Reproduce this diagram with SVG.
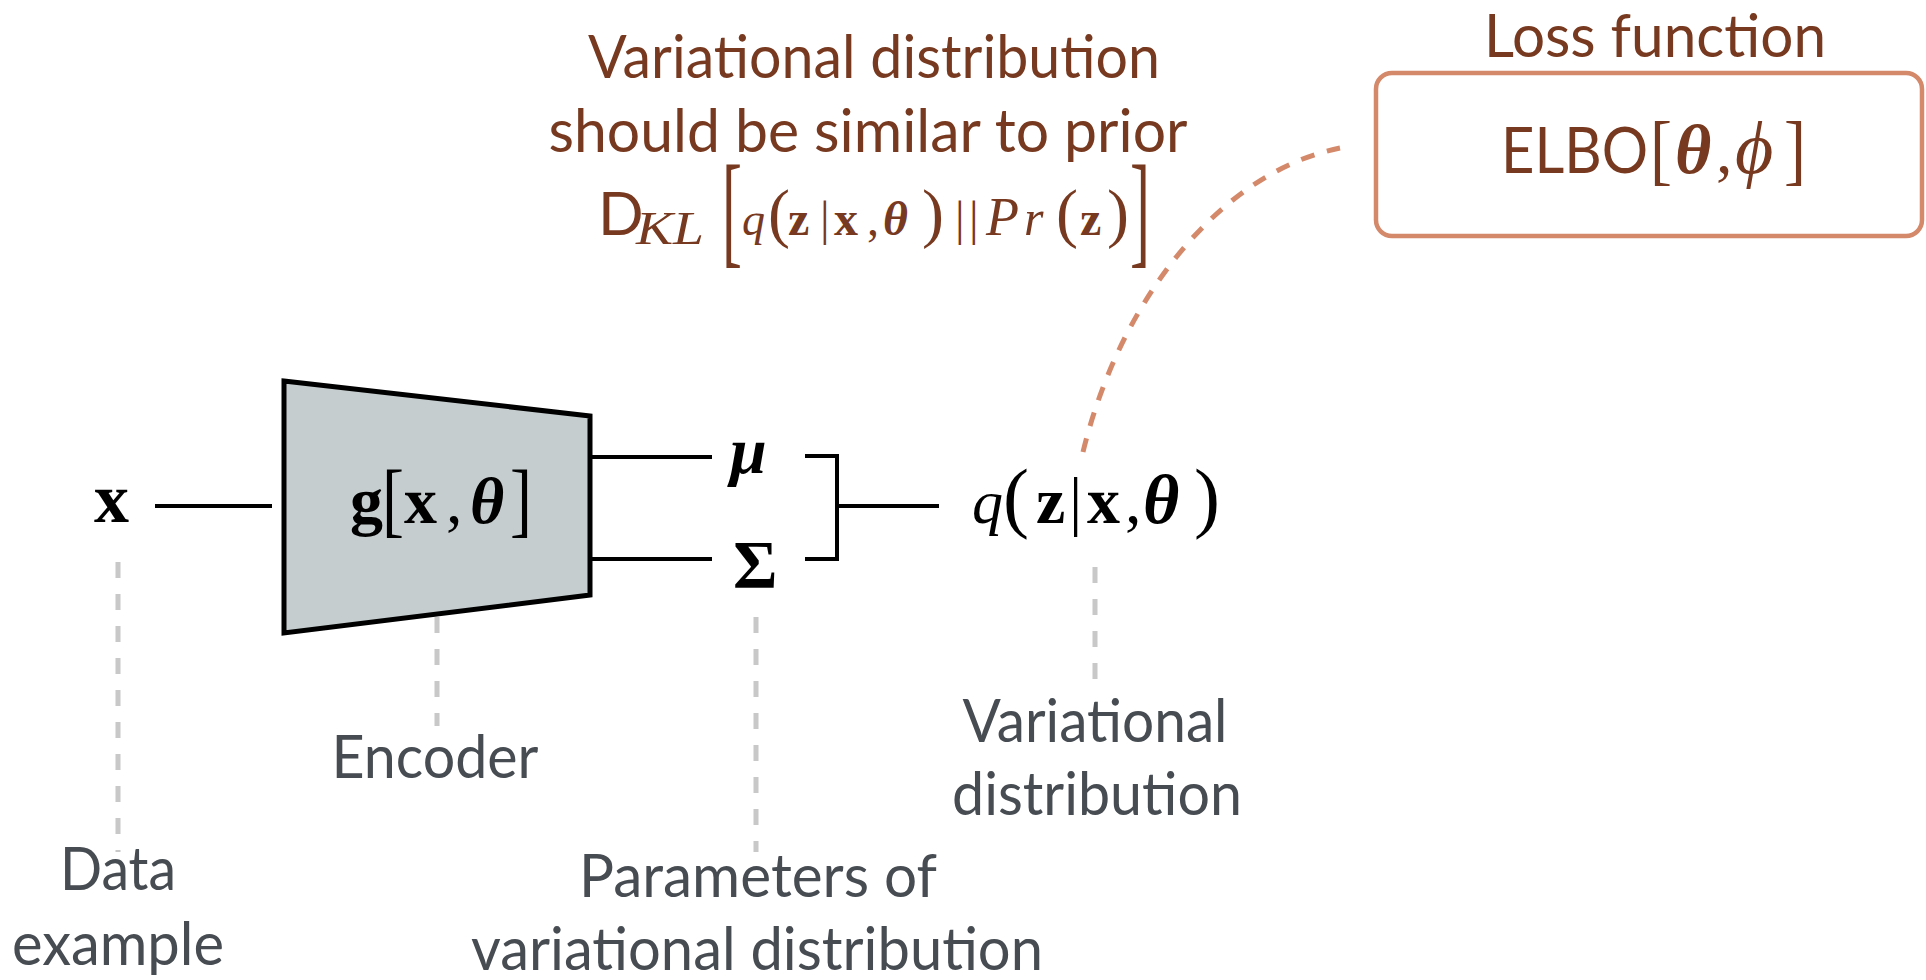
<svg xmlns="http://www.w3.org/2000/svg" width="1926" height="980" viewBox="0 0 1926 980">
  <style>
    .label { font-family: Lato, "Open Sans", sans-serif; font-size: 60px; fill: #464c52; text-anchor: middle; }
    .title { font-family: Lato, "Open Sans", sans-serif; font-size: 60px; fill: #77391f; text-anchor: middle; }
    .sans { font-family: Lato, "Open Sans", sans-serif; }
    .math { font-family: "Liberation Serif", "DejaVu Serif", serif; fill: #000; }
    .bm { font-weight: bold; }
    .it { font-style: italic; }
    .brown { fill: #77391f; }
    .wire { stroke: #000; stroke-width: 4; fill: none; }
    .guide { stroke: #c8c8c8; stroke-width: 5; stroke-dasharray: 16 16; fill: none; }
    .loss-link { stroke: #d4896b; stroke-width: 5; stroke-dasharray: 14 13; fill: none; }
  </style>

  <!-- connectors -->
  <g id="connectors">
    <line class="wire" x1="155" y1="506" x2="272" y2="506"/>
    <line class="wire" x1="590" y1="457" x2="712" y2="457"/>
    <line class="wire" x1="590" y1="559" x2="712" y2="559"/>
    <polyline class="wire" points="805,456 837,456 837,559 805,559"/>
    <line class="wire" x1="837" y1="506" x2="939" y2="506"/>
    <path class="loss-link" d="M1083,452 C1120,300 1220,172 1340,148"/>
    <!-- grey leader lines to the captions -->
    <line class="guide" x1="118" y1="562" x2="118" y2="852"/>
    <line class="guide" x1="437" y1="617" x2="437" y2="726"/>
    <line class="guide" x1="756" y1="617" x2="756" y2="852"/>
    <line class="guide" x1="1095" y1="567" x2="1095" y2="680"/>
  </g>

  <!-- input x -->
  <g id="input">
    <text class="math bm" x="94" y="522" font-size="70">x</text>
  </g>

  <!-- encoder network -->
  <g id="encoder">
    <polygon points="284,381 590,416 590,595 284,633" fill="#c6cdcf" stroke="#000" stroke-width="5"/>
    <text class="math" y="523" font-size="66">
      <tspan class="bm" x="350">g</tspan><tspan class="bm" x="404">x</tspan><tspan x="446">,</tspan><tspan class="bm it" x="470">θ</tspan>
    </text>
    <!-- tall brackets: vertically stretched so the stems stay thin -->
    <text class="math" font-size="66" transform="translate(382,527) scale(1,1.24)">[</text>
    <text class="math" font-size="66" transform="translate(510,527) scale(1,1.24)">]</text>
  </g>

  <!-- distribution parameters -->
  <g id="mu">
    <text class="math bm it" x="730" y="473" font-size="66">μ</text>
  </g>
  <g id="sigma">
    <text class="math bm" x="733" y="587" font-size="68">Σ</text>
  </g>

  <!-- variational distribution -->
  <g id="q">
    <text class="math" y="523" font-size="66">
      <tspan class="it" x="972" font-size="62">q</tspan><tspan x="1003" font-size="78">(</tspan><tspan class="bm" x="1036">z</tspan><tspan x="1069">|</tspan><tspan class="bm" x="1087">x</tspan><tspan x="1125">,</tspan><tspan class="bm it" x="1143" font-size="70">θ</tspan><tspan x="1194" font-size="78">)</tspan>
    </text>
  </g>

  <!-- KL annotation -->
  <g id="kl-note">
    <text class="title" x="874" y="78" textLength="572" lengthAdjust="spacingAndGlyphs">Variational distribution</text>
    <text class="title" x="868" y="152" textLength="639" lengthAdjust="spacingAndGlyphs">should be similar to prior</text>
    <text class="math brown" y="235" font-size="48">
      <tspan class="sans" x="598" font-size="60">D</tspan><tspan class="it" x="636" y="244" font-size="46" textLength="68" lengthAdjust="spacingAndGlyphs">KL</tspan><tspan class="it" x="742" y="235" font-size="46">q</tspan><tspan x="768" font-size="66">(</tspan><tspan class="bm" x="788">z</tspan><tspan x="820">|</tspan><tspan class="bm" x="834">x</tspan><tspan x="867">,</tspan><tspan class="bm it" x="883">θ</tspan><tspan x="922" font-size="66">)</tspan><tspan x="955">|</tspan><tspan x="969">|</tspan><tspan class="it" x="986" font-size="54">P</tspan><tspan class="it" x="1024" font-size="50">r</tspan><tspan x="1056" font-size="66">(</tspan><tspan class="bm" x="1080">z</tspan><tspan x="1107" font-size="66">)</tspan>
    </text>
    <text class="math brown" font-size="60" transform="translate(722,250.6) scale(1,2.08)">[</text>
    <text class="math brown" font-size="60" transform="translate(1130,250.6) scale(1,2.08)">]</text>
  </g>

  <!-- loss function -->
  <g id="loss">
    <text class="title" x="1655" y="57" font-size="58" textLength="342" lengthAdjust="spacingAndGlyphs">Loss function</text>
    <rect x="1376" y="73" width="546" height="163" rx="16" fill="none" stroke="#d4896b" stroke-width="4.5"/>
    <text class="math brown" y="173" font-size="66">
      <tspan class="sans" x="1501" font-size="64" textLength="147" lengthAdjust="spacingAndGlyphs">ELBO</tspan><tspan class="bm it" x="1675" font-size="70">θ</tspan><tspan x="1716">,</tspan><tspan class="it" x="1735" font-size="74">ϕ</tspan>
    </text>
    <text class="math brown" font-size="66" transform="translate(1650,176) scale(1,1.17)">[</text>
    <text class="math brown" font-size="66" transform="translate(1784,176) scale(1,1.17)">]</text>
  </g>

  <!-- captions -->
  <g id="caption-data">
    <text class="label" x="118" y="890" textLength="116" lengthAdjust="spacingAndGlyphs">Data</text>
    <text class="label" x="118" y="965" textLength="212" lengthAdjust="spacingAndGlyphs">example</text>
  </g>
  <g id="caption-encoder">
    <text class="label" x="435" y="778" textLength="207" lengthAdjust="spacingAndGlyphs">Encoder</text>
  </g>
  <g id="caption-params">
    <text class="label" x="758" y="897" textLength="358" lengthAdjust="spacingAndGlyphs">Parameters of</text>
    <text class="label" x="757" y="970" textLength="572" lengthAdjust="spacingAndGlyphs">variational distribution</text>
  </g>
  <g id="caption-q">
    <text class="label" x="1095" y="742" textLength="265" lengthAdjust="spacingAndGlyphs">Variational</text>
    <text class="label" x="1097" y="815" textLength="290" lengthAdjust="spacingAndGlyphs">distribution</text>
  </g>
</svg>
